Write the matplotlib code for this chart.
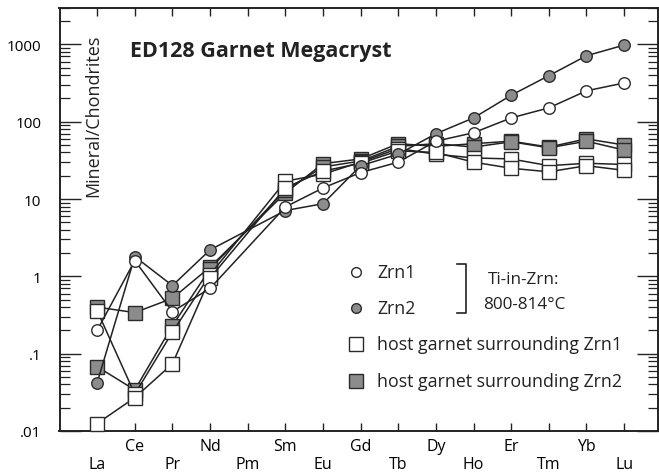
import matplotlib.pyplot as plt
import numpy as np
from matplotlib.ticker import FixedLocator, LogLocator, NullFormatter

plt.rcParams["font.family"] = ["Open Sans", "DejaVu Sans"]

# REE order, Pm has no data
elements = ["La", "Ce", "Pr", "Nd", "Pm", "Sm", "Eu", "Gd", "Tb", "Dy",
            "Ho", "Er", "Tm", "Yb", "Lu"]
nan = np.nan

# zircon analyses (chondrite normalised)
zrn1 = [0.20, 1.6, 0.35, 0.70, nan, 7.9, 13.9, 22, 30, 56, 72, 112, 151, 251, 317]
zrn2 = [0.042, 1.8, 0.76, 2.2, nan, 7.1, 8.7, 27, 38, 70, 112, 220, 394, 713, 980]

# host garnet around each zircon
grt_zrn1_a = [0.36, 0.030, 0.19, 1.05, nan, 17, 21, 30, 45, 38, 34, 33, 27, 29, 28]
grt_zrn1_b = [0.0125, 0.027, 0.074, 0.95, nan, 14, 23, 29, 42, 40, 30, 25, 22.5, 27, 23.5]
grt_zrn2_a = [0.40, 0.34, 0.52, 1.32, nan, 12, 28.7, 33, 52, 48, 52, 56, 47, 60, 50]
grt_zrn2_b = [0.068, 0.034, 0.23, 1.25, nan, 13, 26, 31, 48, 52, 47, 55, 46, 56, 43]

GREY = "#8c8c8c"
EDGE = "#2b2b2b"


def plot_series(ax, values, marker, face, size, z):
    x = np.arange(len(elements))
    y = np.array(values, dtype=float)
    ok = ~np.isnan(y)
    ax.plot(x[ok], y[ok], color="#222222", lw=1.1, marker=marker, ms=size,
            mfc=face, mec=EDGE, mew=1.0, zorder=z, clip_on=False)


fig = plt.figure(figsize=(6.59, 4.77), dpi=100)
W, H = 659, 477
left, right, top, bottom = 59.5, 658, 8.5, 432
ax = fig.add_axes([left / W, 1 - bottom / H, (right - left) / W, (bottom - top) / H])

plot_series(ax, grt_zrn2_a, "s", GREY, 10, 3)
plot_series(ax, grt_zrn2_b, "s", GREY, 10, 3)
plot_series(ax, grt_zrn1_a, "s", "white", 10, 4)
plot_series(ax, grt_zrn1_b, "s", "white", 10, 4)
plot_series(ax, zrn2, "o", GREY, 8.3, 5)
plot_series(ax, zrn1, "o", "white", 8.3, 6)

ax.set_yscale("log")
ax.set_ylim(0.01, 3000)
ax.set_xlim(-1, 14.9)

# y axis
ax.yaxis.set_major_locator(FixedLocator([0.01, 0.1, 1, 10, 100, 1000]))
ax.set_yticklabels([".01", ".1", "1", "10", "100", "1000"])
ax.yaxis.set_minor_locator(LogLocator(base=10, subs=np.arange(2, 10)))
ax.yaxis.set_minor_formatter(NullFormatter())
ax.tick_params(axis="y", which="major", direction="in", length=15, width=1,
               labelsize=11, pad=13, right=True, color="#222222")
ax.tick_params(axis="y", which="minor", direction="in", length=7.5, width=0.9,
               right=True, color="#222222")

# x axis: two staggered rows of labels
x = np.arange(len(elements))
ax.set_xticks(x)
ax.set_xticklabels([el if i % 2 else "\n" + el for i, el in enumerate(elements)],
                   linespacing=1.15)
ax.tick_params(axis="x", direction="in", length=6, width=1, labelsize=11.5,
               pad=5, top=True, color="#222222")

for sp in ax.spines.values():
    sp.set_linewidth(1.4)
    sp.set_color("#222222")


def axpt(px, py):
    return ((px - left) / (right - left), (bottom - py) / (bottom - top))


ax.text(*axpt(93, 116), "Mineral/Chondrites", transform=ax.transAxes,
        rotation=90, ha="center", va="center", fontsize=13, color="#222222")
ax.text(*axpt(130, 51), "ED128 Garnet Megacryst", transform=ax.transAxes,
        ha="left", va="center", fontsize=15.5, fontweight="bold", color="#222222")

# hand-made legend
legend_items = [
    ("Zrn1", "o", "white", 273, 7),
    ("Zrn2", "o", GREY, 309, 7),
    ("host garnet surrounding Zrn1", "s", "white", 345, 10),
    ("host garnet surrounding Zrn2", "s", GREY, 382, 10),
]
for label, marker, face, py, size in legend_items:
    ax.plot(*axpt(355.5, py), marker=marker, ms=size, mfc=face, mec=EDGE,
            mew=1.0, transform=ax.transAxes, clip_on=False, zorder=7)
    ax.text(*axpt(377, py), label, transform=ax.transAxes, ha="left",
            va="center", fontsize=12.8, color="#222222")

# bracket for the zircon temperature note
bx = [axpt(457, 265), axpt(466, 265), axpt(466, 314), axpt(457, 314)]
ax.plot([p[0] for p in bx], [p[1] for p in bx], color="#222222", lw=1.2,
        transform=ax.transAxes, clip_on=False)
ax.text(*axpt(524, 280), "Ti-in-Zrn:", transform=ax.transAxes, ha="center",
        va="center", fontsize=12.3, color="#222222")
ax.text(*axpt(524, 305), "800-814\u00b0C", transform=ax.transAxes, ha="center",
        va="center", fontsize=12.3, color="#222222")

fig.savefig("out.png", dpi=100)
